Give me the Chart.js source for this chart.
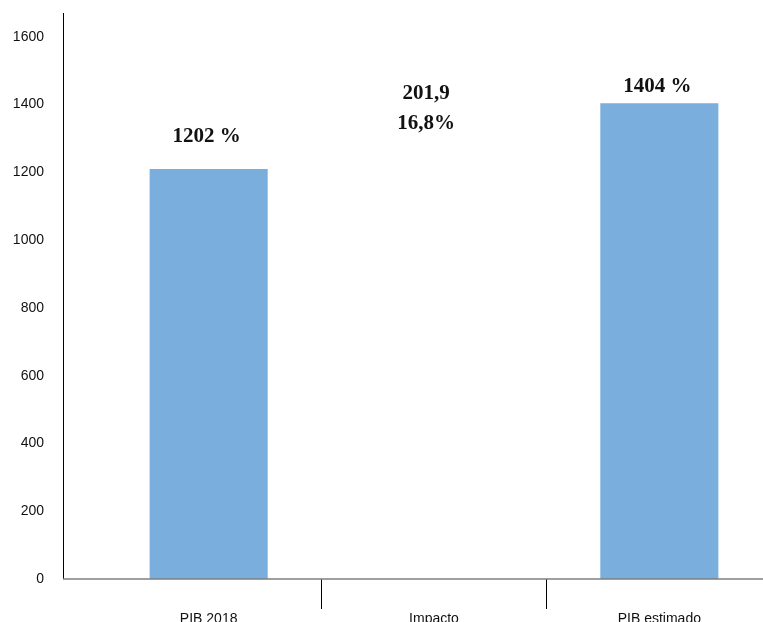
<!DOCTYPE html>
<html>
<head>
<meta charset="utf-8">
<script src="https://cdn.jsdelivr.net/npm/chart.js@4"></script>
<style>
  html, body { margin: 0; padding: 0; background: #fff; overflow: hidden; }
  canvas { display: block; }
</style>
</head>
<body>
<canvas id="myChart" width="772" height="622"></canvas>
<script>
const categories = ["PIB 2018", "Impacto", "PIB estimado"];
const pib2018 = 1210;
const impacto = 201.9;
const pibEstimado = 1404;
const barLabels = [["1202 %"], ["201,9", "16,8%"], ["1404 %"]];
const yMax = 1670;
const yStep = 200;

// label placement relative to each bar top (px)
const labelLift = [32, 7, 17];
const labelShift = [-2, -8, -2];

const barLabelPlugin = {
  id: "barLabels",
  afterDatasetsDraw(chart) {
    const ctx = chart.ctx;
    const meta = chart.getDatasetMeta(0);
    ctx.save();
    ctx.fillStyle = "#111";
    ctx.font = "bold 21px 'Liberation Serif', 'DejaVu Serif', serif";
    ctx.textAlign = "center";
    ctx.textBaseline = "middle";
    meta.data.forEach(function (bar, i) {
      barLabels[i].forEach(function (line, j) {
        ctx.fillText(line, bar.x + labelShift[i], bar.y - labelLift[i] + j * 30);
      });
    });
    ctx.restore();
  },
};

// Excel-style axis lines start a bit left of the plot
const axisLinesPlugin = {
  id: "axisLines",
  afterDraw(chart) {
    const ctx = chart.ctx;
    const area = chart.chartArea;
    const axisX = area.left - 33;
    ctx.save();
    ctx.strokeStyle = "#000";
    ctx.lineWidth = 1;
    ctx.beginPath();
    ctx.moveTo(axisX + 0.5, area.top);
    ctx.lineTo(axisX + 0.5, area.bottom);
    ctx.stroke();
    ctx.strokeStyle = "#7f7f7f";
    ctx.lineWidth = 1.5;
    ctx.beginPath();
    ctx.moveTo(axisX, area.bottom);
    ctx.lineTo(area.right, area.bottom);
    ctx.stroke();
    ctx.restore();
  },
};

document.addEventListener("DOMContentLoaded", function () {
  const ctx = document.getElementById("myChart").getContext("2d");

  const myChart = new Chart(ctx, {
    type: "bar",
    data: {
      labels: categories,
      datasets: [
        {
          data: [pib2018, [pib2018, pib2018 + impacto], pibEstimado],
          backgroundColor: ["#7aaedc", "rgba(0,0,0,0)", "#7aaedc"],
          borderWidth: 0,
          barPercentage: 0.524,
          categoryPercentage: 1,
        },
      ],
    },
    options: {
      responsive: false,
      animation: false,
      layout: { padding: { top: 13, left: 0, right: 0, bottom: 0 } },
      scales: {
        y: {
          min: 0,
          max: yMax,
          afterFit: function (scale) {
            scale.width = 96;
            scale.paddingTop = 0;
            scale.paddingBottom = 0;
          },
          ticks: {
            stepSize: yStep,
            includeBounds: false,
            padding: 52,
            color: "#111",
            font: { family: "'Liberation Sans', Arial, sans-serif", size: 14 },
            callback: function (v) {
              return String(v);
            },
          },
          grid: { display: false, tickLength: 0 },
          border: { display: false },
        },
        x: {
          afterFit: function (scale) {
            scale.height = 43;
          },
          ticks: {
            padding: 2,
            color: "#111",
            font: { family: "'Liberation Sans', Arial, sans-serif", size: 14 },
          },
          grid: {
            offset: true,
            drawOnChartArea: false,
            drawTicks: true,
            tickLength: 30,
            color: function (c) {
              return c.index === 1 || c.index === 2 ? "#000" : "rgba(0,0,0,0)";
            },
          },
          border: { display: false },
        },
      },
      plugins: {
        legend: { display: false },
        tooltip: { enabled: false },
      },
    },
    plugins: [barLabelPlugin, axisLinesPlugin],
  });
});
</script>
</body>
</html>
